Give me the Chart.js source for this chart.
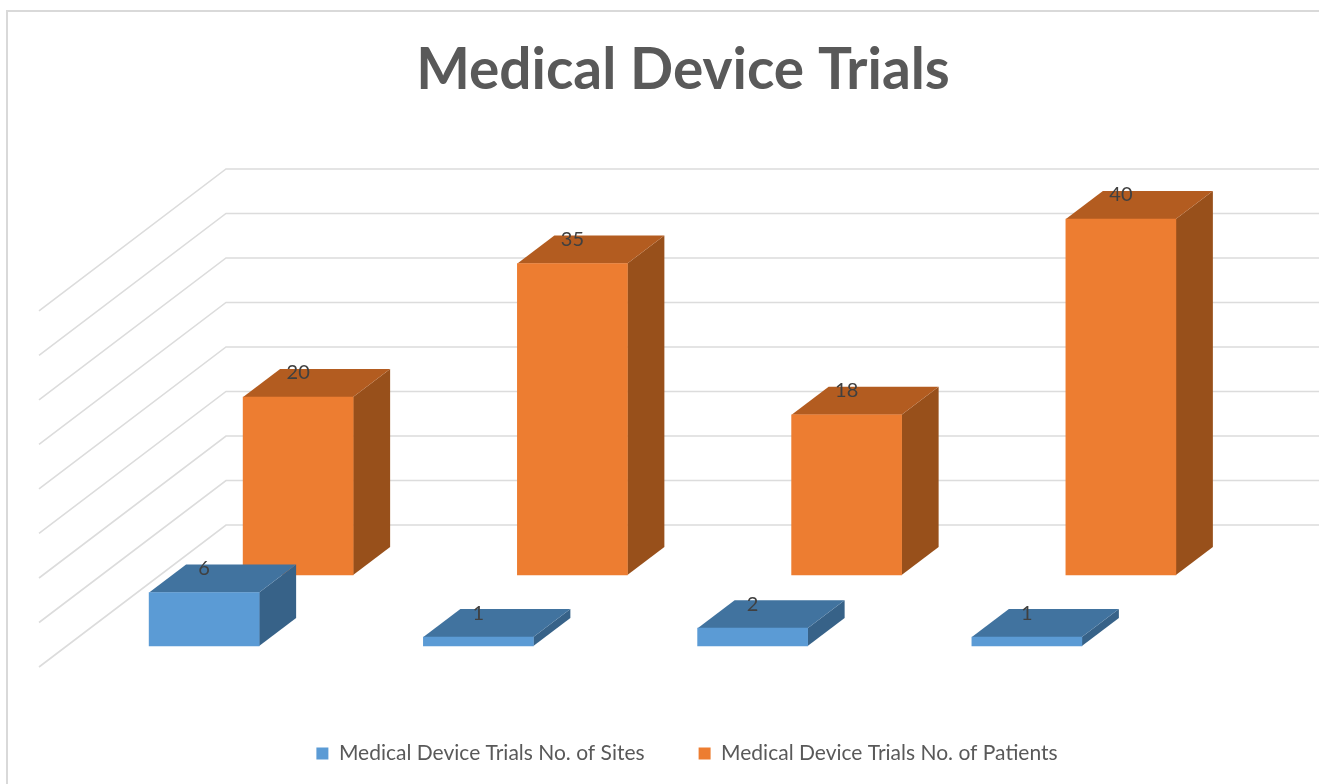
<!DOCTYPE html>
<html>
<head>
<meta charset="utf-8">
<title>Medical Device Trials</title>
<script src="https://cdn.jsdelivr.net/npm/chart.js@4"></script>
<style>
    html, body { margin: 0; height: 100%; overflow: hidden; background: #fff; }
    #wrap { position: absolute; left: 6px; top: 10px; border: 2px solid #d9d9d9; width: 1350px; height: 805px; }
    canvas { display: block; }
</style>
</head>
<body>
<div id="wrap"><canvas id="chartTrials" width="1350" height="762"></canvas></div>
<script>
const categories = ["Trial 1", "Trial 2", "Trial 3", "Trial 4"];
const sites = [6, 1, 2, 1];
const patients = [20, 35, 18, 40];
const yTicks = [0, 5, 10, 15, 20, 25, 30, 35, 40];

// fake 3d offsets, in pixels
const BAR_DX = 37, BAR_DY = -28;   // depth of one bar
const ROW_DX = 94, ROW_DY = -71;   // second row of bars sits further back
const WALL_DX = 159, WALL_DY = -121; // back wall
const FLOOR_DX = -28, FLOOR_DY = 21; // front edge of side wall

function face(ctx, color, pts) {
    ctx.fillStyle = color;
    ctx.beginPath();
    pts.forEach((p, i) => i ? ctx.lineTo(p[0], p[1]) : ctx.moveTo(p[0], p[1]));
    ctx.closePath();
    ctx.fill();
}

const bars3d = {
    id: "bars3d",
    afterLayout(chart) {
        // legend sits a little right of centre
        chart.legend.left += 4;
        chart.legend.right += 4;
    },
    beforeDatasetsDraw(chart) {
        // grid on side wall and back wall
        const { ctx, scales, chartArea } = chart;
        ctx.save();
        ctx.strokeStyle = "#dcdcdc";
        ctx.lineWidth = 1.6;
        scales.y.ticks.forEach(t => {
            const y = scales.y.getPixelForValue(t.value);
            ctx.beginPath();
            ctx.moveTo(chartArea.left + FLOOR_DX, y + FLOOR_DY);
            ctx.lineTo(chartArea.left + WALL_DX, y + WALL_DY);
            ctx.lineTo(chartArea.right + WALL_DX, y + WALL_DY);
            ctx.stroke();
        });
        ctx.restore();
    },
    beforeDatasetDraw(chart, args) {
        const { ctx } = chart;
        const ds = chart.data.datasets[args.index];
        ctx.save();
        if (ds.backRow) ctx.translate(ROW_DX, ROW_DY);
        args.meta.data.forEach(bar => {
            const l = bar.x - bar.width / 2, r = bar.x + bar.width / 2;
            face(ctx, ds.sideColor, [[r, bar.y], [r + BAR_DX, bar.y + BAR_DY], [r + BAR_DX, bar.base + BAR_DY], [r, bar.base]]);
            face(ctx, ds.topColor, [[l, bar.y], [l + BAR_DX, bar.y + BAR_DY], [r + BAR_DX, bar.y + BAR_DY], [r, bar.y]]);
        });
    },
    afterDatasetDraw(chart, args) {
        const { ctx } = chart;
        const ds = chart.data.datasets[args.index];
        ctx.fillStyle = "#404040";
        ctx.font = "20px Lato";
        ctx.textAlign = "center";
        ctx.textBaseline = "middle";
        args.meta.data.forEach((bar, i) => {
            ctx.fillText(ds.data[i], bar.x, bar.y - 24);
        });
        ctx.restore();
    }
};

new Chart(document.getElementById("chartTrials"), {
    type: "bar",
    plugins: [bars3d],
    data: {
        labels: categories,
        datasets: [
            {
                label: "Medical Device Trials No. of Sites",
                data: sites,
                backgroundColor: "#5b9bd5",
                topColor: "#41739f",
                sideColor: "#376288",
                grouped: false,
                barThickness: 110,
                clip: false
            },
            {
                label: "Medical Device Trials No. of Patients",
                data: patients,
                backgroundColor: "#ed7d31",
                topColor: "#b35c20",
                sideColor: "#98501b",
                backRow: true,
                grouped: false,
                barThickness: 110,
                clip: false
            }
        ]
    },
    options: {
        responsive: false,
        animation: false,
        plugins: {
            tooltip: { enabled: false },
            title: {
                display: true,
                text: "Medical Device Trials",
                color: "#595959",
                font: { family: "Lato", size: 56.8, weight: "bold" },
                padding: { top: 25, bottom: 184.8 }
            },
            legend: {
                position: "bottom",
                labels: {
                    color: "#595959",
                    font: { family: "Lato", size: 21 },
                    boxWidth: 12,
                    boxHeight: 12,
                    padding: 54
                }
            }
        },
        scales: {
            x: {
                grid: { display: false },
                border: { display: false },
                ticks: { display: false },
                afterFit(scale) { scale.height = 43; }
            },
            y: {
                min: 0,
                max: 40,
                afterBuildTicks(scale) { scale.ticks = yTicks.map(v => ({ value: v })); },
                grid: { display: false },
                border: { display: false },
                ticks: { display: false },
                afterFit(scale) { scale.width = 59; }
            },
            // empty axis, only keeps the plot clear of the right side
            yRight: {
                position: "right",
                grid: { display: false },
                border: { display: false },
                ticks: { display: false },
                afterFit(scale) { scale.width = 194; }
            }
        }
    }
});
</script>
</body>
</html>
